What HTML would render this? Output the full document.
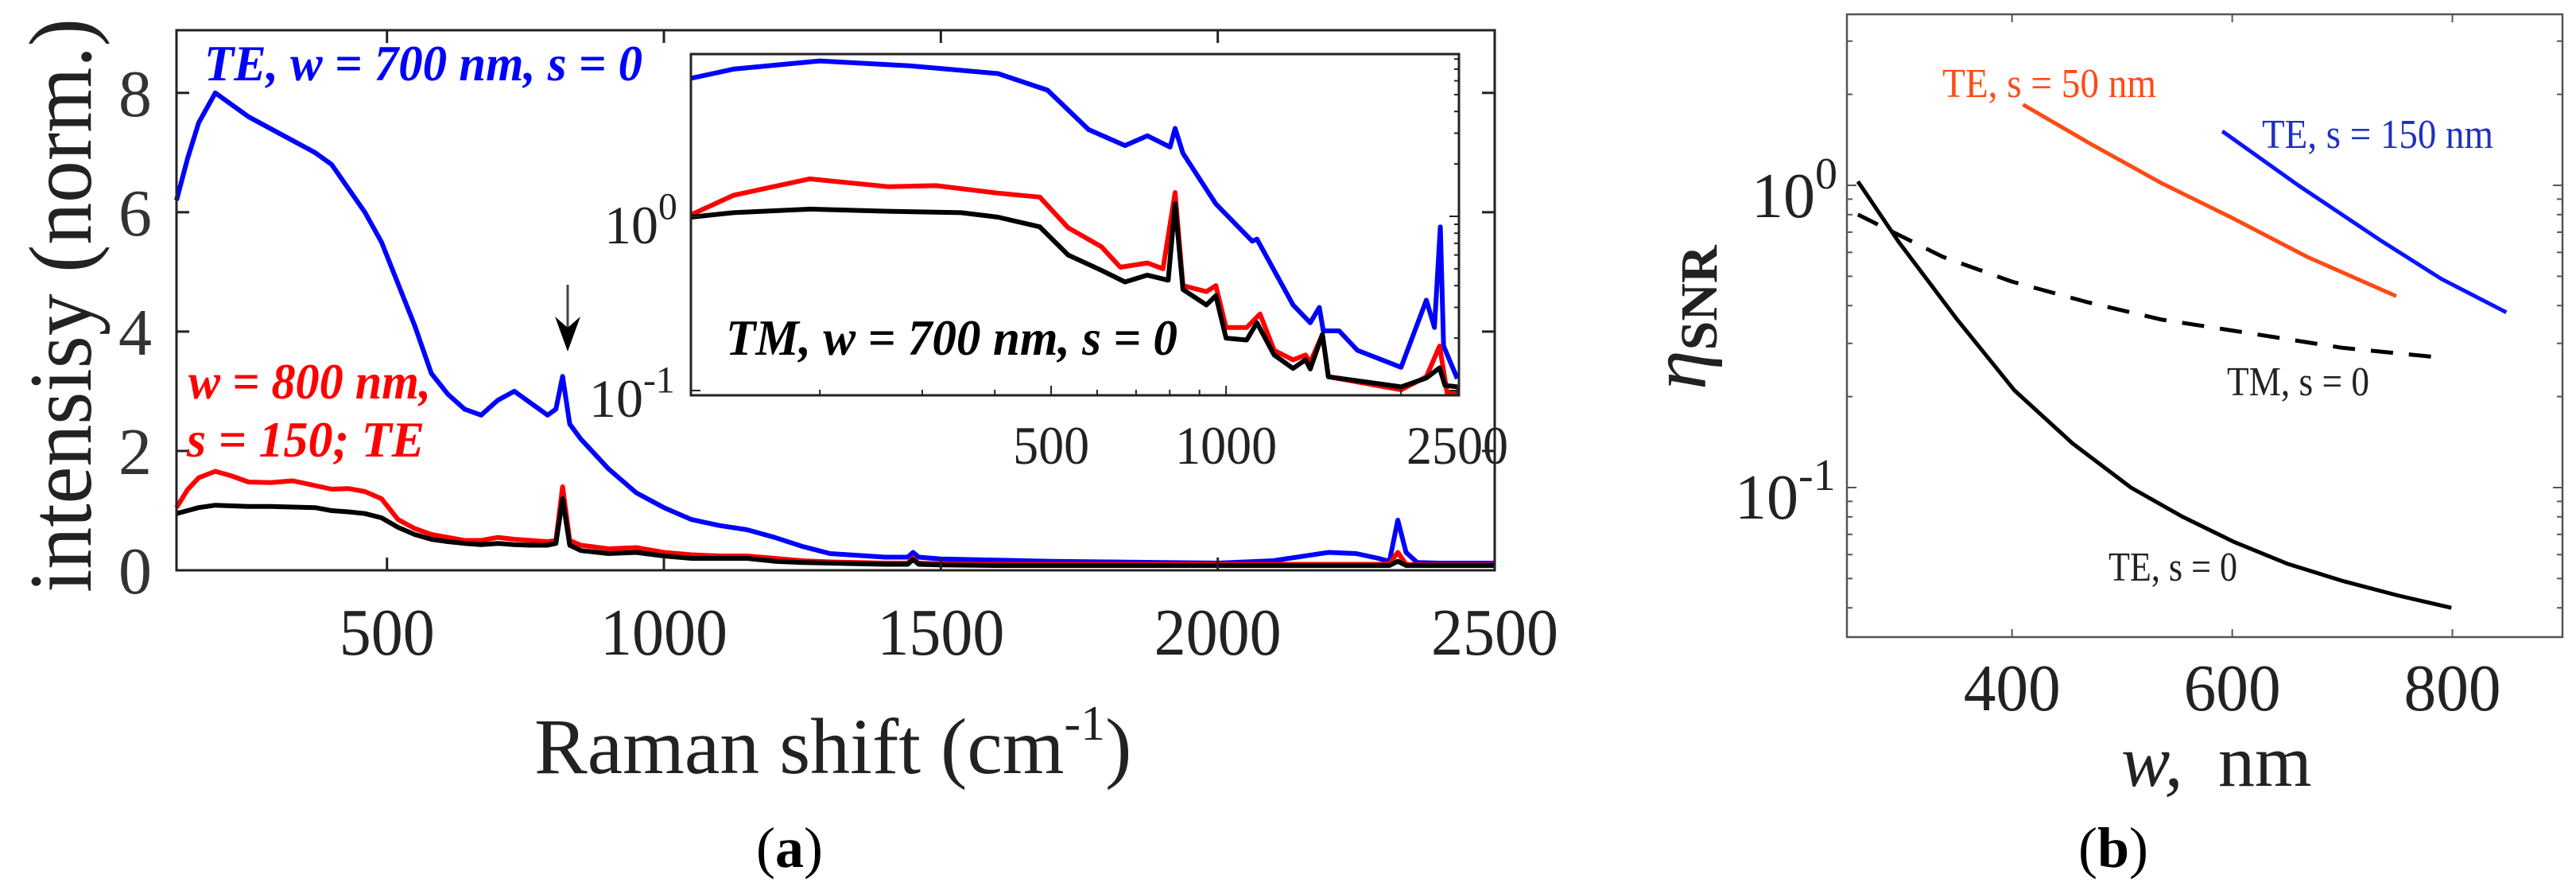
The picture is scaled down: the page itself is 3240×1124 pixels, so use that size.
<!DOCTYPE html>
<html><head><meta charset="utf-8"><style>
html,body{margin:0;padding:0;background:#fff;}
svg{display:block;font-family:"Liberation Serif","Times New Roman",serif;}
svg text{font-family:"Liberation Serif","Times New Roman",serif;}
</style></head><body>
<svg id="fig" width="3240" height="1124" viewBox="0 0 3240 1124" xmlns="http://www.w3.org/2000/svg" font-family="Liberation Serif, serif">
<g id="pa"></g>
<g id="pb"></g>
</svg>
<script>
// ---------- Panel (a) main spectra ----------
const mainX=[120,140,160,190,220,250,290,330,370,400,430,460,490,520,550,580,610,640,670,700,730,760,790,805,817,830,850,900,950,1000,1050,1100,1150,1200,1250,1300,1400,1440,1450,1460,1500,1600,1700,1800,1900,2000,2100,2200,2250,2290,2310,2325,2340,2360,2400,2450,2500];
const mainBlue=[6.2,6.9,7.5,8.0,7.8,7.6,7.4,7.2,7.0,6.8,6.4,6.0,5.5,4.8,4.1,3.3,2.95,2.7,2.6,2.85,3.0,2.8,2.6,2.7,3.25,2.45,2.2,1.7,1.3,1.05,0.85,0.75,0.68,0.55,0.4,0.28,0.22,0.22,0.3,0.22,0.19,0.17,0.15,0.14,0.13,0.12,0.16,0.3,0.28,0.2,0.15,0.84,0.3,0.13,0.12,0.12,0.12];
const mainRed=[1.05,1.35,1.55,1.66,1.58,1.48,1.47,1.5,1.42,1.36,1.37,1.32,1.2,0.85,0.7,0.6,0.55,0.5,0.5,0.55,0.52,0.5,0.48,0.5,1.4,0.5,0.42,0.36,0.38,0.3,0.26,0.24,0.24,0.2,0.16,0.14,0.12,0.12,0.2,0.12,0.11,0.1,0.1,0.1,0.1,0.1,0.1,0.1,0.1,0.1,0.11,0.3,0.1,0.09,0.09,0.09,0.09];
const mainBlack=[0.95,1.0,1.05,1.09,1.08,1.07,1.07,1.06,1.05,1.0,0.98,0.95,0.88,0.72,0.6,0.52,0.48,0.45,0.43,0.45,0.43,0.42,0.42,0.45,1.2,0.42,0.33,0.28,0.3,0.24,0.2,0.2,0.2,0.15,0.13,0.12,0.1,0.1,0.18,0.1,0.09,0.08,0.08,0.08,0.08,0.08,0.08,0.08,0.08,0.08,0.08,0.15,0.08,0.08,0.08,0.08,0.08];
const mainXTicks=[500,1000,1500,2000,2500];
const mainYTicks=[0,2,4,6,8];
// ---------- Panel (a) inset (log-log) ----------
const insBlueX=[120,142,200,287,405,493,580,670,732,801,817,843,960,1109,1130,1304,1396,1447,1470,1565,1683,2000,2211,2283,2337,2367,2500];
const insBlueY=[6.2,7.0,7.8,7.3,6.6,5.3,3.15,2.55,2.9,2.5,3.2,2.3,1.18,0.72,0.74,0.31,0.245,0.30,0.22,0.22,0.17,0.136,0.33,0.23,0.87,0.18,0.117];
const insRedX=[120,142,192,262,317,405,478,535,610,658,732,779,817,843,925,960,1000,1085,1144,1210,1304,1370,1396,1465,1500,2000,2211,2330,2400,2500];
const insRedY=[1.02,1.32,1.64,1.48,1.5,1.36,1.29,0.86,0.67,0.51,0.54,0.5,1.37,0.40,0.37,0.40,0.23,0.23,0.275,0.17,0.15,0.16,0.145,0.21,0.12,0.101,0.12,0.18,0.097,0.097];
const insBlackX=[120,142,192,262,350,405,478,535,610,670,732,795,817,843,925,960,1000,1085,1130,1210,1304,1370,1396,1465,1500,2000,2211,2330,2380,2500];
const insBlackY=[0.99,1.05,1.1,1.07,1.05,0.99,0.87,0.6,0.49,0.42,0.46,0.43,1.18,0.38,0.31,0.35,0.2,0.195,0.245,0.16,0.134,0.15,0.133,0.21,0.12,0.105,0.118,0.135,0.107,0.105];
const insXTicks=[500,1000,2500];
const insXMinor=[200,300,400,600,700,800,900,2000];
// ---------- Panel (b) eta_SNR ----------
const teS0W=[260,297,350,402,455,508,555,602,650,701,750,799];
const teS0Y=[1.03,0.65,0.36,0.21,0.14,0.10,0.08,0.066,0.056,0.049,0.044,0.040];
const tmS0W=[260,337,400,469,535,602,700,786];
const tmS0Y=[0.80,0.58,0.48,0.41,0.36,0.33,0.29,0.27];
const te50W=[410,470,535,600,668,749];
const te50Y=[1.85,1.38,1.02,0.78,0.58,0.43];
const te150W=[591,660,734,790,849];
const te150Y=[1.51,1.0,0.66,0.49,0.38];
const bXTicks=[400,600,800];

const NS="http://www.w3.org/2000/svg";
function mk(parent,tag,attrs,text){const e=document.createElementNS(NS,tag);for(const k in attrs)e.setAttribute(k,attrs[k]);if(text!==undefined)e.textContent=text;parent.appendChild(e);return e;}
const pa=document.getElementById('pa'), pb=document.getElementById('pb');

const MX0=222,MX1=1880,MY0=717,MY1=38,XMIN=120,XMAX=2500,YMIN=0,YMAX=9.05;
const mx=v=>MX0+(v-XMIN)/(XMAX-XMIN)*(MX1-MX0);
const my=v=>MY0-(v-YMIN)/(YMAX-YMIN)*(MY0-MY1);
function line(parent,xs,ys,fx,fy,color,w,name,dash){
  const p=mk(parent,'polyline',{points:xs.map((x,i)=>fx(x).toFixed(1)+','+fy(ys[i]).toFixed(1)).join(' '),fill:'none',stroke:color,'stroke-width':w,'stroke-linejoin':'round','stroke-linecap':'butt'});
  if(dash)p.setAttribute('stroke-dasharray',dash);
  
  
  return p;
}
line(pa,mainX,mainBlue,mx,my,'#0000ff',6,'series-te-700-s0');
line(pa,mainX,mainRed,mx,my,'#ff0000',6,'series-te-800-s150');
line(pa,mainX,mainBlack,mx,my,'#000000',6,'series-tm-700-s0');
const frame=mk(pa,'rect',{x:MX0,y:MY1,width:MX1-MX0,height:MY0-MY1,fill:'none',stroke:'#222','stroke-width':3});


mainXTicks.forEach(t=>{
  const X=mx(t);
  mk(pa,'line',{x1:X,y1:MY0,x2:X,y2:MY0-16,stroke:'#222','stroke-width':3});
  mk(pa,'line',{x1:X,y1:MY1,x2:X,y2:MY1+16,stroke:'#222','stroke-width':3});
  const tl=mk(pa,'text',{x:X,y:823,'font-size':84,'text-anchor':'middle',fill:'#222',textLength:String(t).length*40,lengthAdjust:'spacingAndGlyphs'},String(t));
  
  
});
mainYTicks.forEach(t=>{
  const Y=my(t);
  mk(pa,'line',{x1:MX0,y1:Y,x2:MX0+16,y2:Y,stroke:'#222','stroke-width':3});
  mk(pa,'line',{x1:MX1,y1:Y,x2:MX1-16,y2:Y,stroke:'#222','stroke-width':3});
  const tl=mk(pa,'text',{x:170,y:Y+29,'font-size':84,'text-anchor':'middle',fill:'#333'},String(t));
  
  
});

// inset
const IX0=869,IX1=1835,IY0=497,IY1=68;
const LXMIN=Math.log10(120),LXPD=731,LY0=272,LYPD=219;
const ix=v=>IX0+(Math.log10(v)-LXMIN)*LXPD;
const iy=v=>LY0-Math.log10(v)*LYPD;
const bg=mk(pa,'rect',{x:IX0,y:IY1,width:IX1-IX0,height:IY0-IY1,fill:'#fff',stroke:'none'});


const insg=mk(pa,'g',{});


mk(insg,'clipPath',{id:'insclip'}).appendChild(document.createElementNS(NS,'rect'));
const cr=document.querySelector('#insclip rect');cr.setAttribute('x',IX0);cr.setAttribute('y',IY1);cr.setAttribute('width',IX1-IX0+8);cr.setAttribute('height',IY0-IY1+6);
const insd=mk(insg,'g',{'clip-path':'url(#insclip)'});
line(insd,insBlueX,insBlueY,ix,iy,'#0000ff',6,'inset-series-blue');
line(insd,insRedX,insRedY,ix,iy,'#ff0000',6,'inset-series-red');
line(insd,insBlackX,insBlackY,ix,iy,'#000000',6,'inset-series-black');
const ifr=mk(insg,'rect',{x:IX0,y:IY1,width:IX1-IX0,height:IY0-IY1,fill:'none',stroke:'#222','stroke-width':3});


insXTicks.forEach(t=>{
  const X=ix(t);
  mk(insg,'line',{x1:X,y1:IY0,x2:X,y2:IY0-12,stroke:'#222','stroke-width':2});
  const tl=mk(insg,'text',{x:X,y:583,'font-size':68,'text-anchor':'middle',fill:'#222',textLength:String(t).length*32,lengthAdjust:'spacingAndGlyphs'},String(t));
  
  
});
insXMinor.forEach(t=>{const X=ix(t);mk(insg,'line',{x1:X,y1:IY0,x2:X,y2:IY0-7,stroke:'#222','stroke-width':2});});
[0.1,1].forEach(t=>{const Y=iy(t);mk(insg,'line',{x1:IX1,y1:Y,x2:IX1-12,y2:Y,stroke:'#222','stroke-width':2});mk(insg,'line',{x1:IX0,y1:Y,x2:IX0+12,y2:Y,stroke:'#222','stroke-width':2});});
[0.2,0.3,0.4,0.5,0.6,0.7,0.8,0.9,2,3,4,5,6,7,8].forEach(t=>{const Y=iy(t);if(Y>IY1){mk(insg,'line',{x1:IX1,y1:Y,x2:IX1-6,y2:Y,stroke:'#222','stroke-width':2});}});
function pow10(parent,x,y,exp,fs,name){
  const t=mk(parent,'text',{x:x,y:y,'font-size':fs,fill:'#222'});
  mk(t,'tspan',{},'10');
  mk(t,'tspan',{dy:-fs*0.45,'font-size':fs*0.7},exp);
  
  
}
pow10(pa,760,306,'0',68,'inset-y-tick-10e0');
pow10(pa,741,524,'-1',68,'inset-y-tick-10e-1');

function txt(parent,attrs,s,name){const t=mk(parent,'text',attrs,s);return t;}
txt(pa,{x:257,y:101,'font-size':64,'font-weight':'bold','font-style':'italic',fill:'#0000ff',textLength:551,lengthAdjust:'spacingAndGlyphs'},'TE, w = 700 nm, s = 0','label-te-700');
txt(pa,{x:237,y:501,'font-size':64,'font-weight':'bold','font-style':'italic',fill:'#ff0000',textLength:305,lengthAdjust:'spacingAndGlyphs'},'w = 800 nm,','label-w800-line1');
txt(pa,{x:235,y:574,'font-size':64,'font-weight':'bold','font-style':'italic',fill:'#ff0000',textLength:299,lengthAdjust:'spacingAndGlyphs'},'s = 150; TE','label-w800-line2');
txt(pa,{x:913,y:446,'font-size':64,'font-weight':'bold','font-style':'italic',fill:'#000',textLength:568,lengthAdjust:'spacingAndGlyphs'},'TM, w = 700 nm, s = 0','label-tm-700');
const arr=mk(pa,'g',{});


mk(arr,'line',{x1:714,y1:358,x2:714,y2:420,stroke:'#444','stroke-width':3});
mk(arr,'polygon',{points:'698,398 714,412 730,398 714,442',fill:'#000'});
txt(pa,{x:0,y:0,'font-size':112,fill:'#222',transform:'translate(114,745) rotate(-90)',textLength:722,lengthAdjust:'spacingAndGlyphs'},'intensisy (norm.)','y-axis-title');
const xl=txt(pa,{x:672,y:972,'font-size':100,fill:'#222'},'','x-axis-title');
mk(xl,'tspan',{},'Raman shift (cm');
mk(xl,'tspan',{dy:-42,'font-size':62},'-1');
mk(xl,'tspan',{dy:42},')');
const ca=txt(pa,{x:993,y:1090,'font-size':72,'text-anchor':'middle',fill:'#000'},'','caption-a');
mk(ca,'tspan',{},'(');mk(ca,'tspan',{'font-weight':'bold'},'a');mk(ca,'tspan',{},')');

// ---------- panel b ----------
const BX0=2323,BX1=3223,BY0=801,BY1=18,BWMIN=250,BWMAX=900,BYD=380,BY10=233;
const bx=v=>BX0+(v-BWMIN)/(BWMAX-BWMIN)*(BX1-BX0);
const by=v=>BY10-Math.log10(v)*BYD;
line(pb,teS0W,teS0Y,bx,by,'#000',5,'curve-te-s0');
line(pb,tmS0W,tmS0Y,bx,by,'#000',5,'curve-tm-s0','28,20');
line(pb,te50W,te50Y,bx,by,'#ff4a14',5,'curve-te-s50');
line(pb,te150W,te150Y,bx,by,'#0a14ff',5,'curve-te-s150');
const bf=mk(pb,'rect',{x:BX0,y:BY1,width:BX1-BX0,height:BY0-BY1,fill:'none',stroke:'#555','stroke-width':2.5});


bXTicks.forEach(t=>{
  const X=bx(t);
  mk(pb,'line',{x1:X,y1:BY0,x2:X,y2:BY0-10,stroke:'#555','stroke-width':2});
  mk(pb,'line',{x1:X,y1:BY1,x2:X,y2:BY1+10,stroke:'#555','stroke-width':2});
  const tl=mk(pb,'text',{x:X,y:893,'font-size':84,'text-anchor':'middle',fill:'#222',textLength:122,lengthAdjust:'spacingAndGlyphs'},String(t));
  
  
});
[0.04,0.05,0.06,0.07,0.08,0.09,0.1,0.2,0.3,0.4,0.5,0.6,0.7,0.8,0.9,1,2,3].forEach(t=>{
  const Y=by(t);if(Y<BY1||Y>BY0)return;
  const L=(t===0.1||t===1)?12:7;
  mk(pb,'line',{x1:BX0,y1:Y,x2:BX0+L,y2:Y,stroke:'#555','stroke-width':2});
  mk(pb,'line',{x1:BX1,y1:Y,x2:BX1-L,y2:Y,stroke:'#555','stroke-width':2});
});
pow10(pb,2203,273,'0',80,'b-y-tick-10e0');
pow10(pb,2182,652,'-1',80,'b-y-tick-10e-1');
txt(pb,{x:2443,y:122,'font-size':52,fill:'#ff4a14',textLength:269,lengthAdjust:'spacingAndGlyphs'},'TE, s  = 50 nm','label-te-s50');
txt(pb,{x:2845,y:186,'font-size':52,fill:'#2030c0',textLength:291,lengthAdjust:'spacingAndGlyphs'},'TE, s  = 150 nm','label-te-s150');
txt(pb,{x:2801,y:497,'font-size':52,fill:'#222',textLength:179,lengthAdjust:'spacingAndGlyphs'},'TM, s = 0','label-tm-s0');
txt(pb,{x:2652,y:730,'font-size':52,fill:'#222',textLength:162,lengthAdjust:'spacingAndGlyphs'},'TE, s = 0','label-te-s0');
const eta=txt(pb,{x:0,y:0,'font-size':100,fill:'#222',transform:'translate(2145,490) rotate(-90)'},'','y-axis-title-b');
mk(eta,'tspan',{'font-style':'italic'},'η');
mk(eta,'tspan',{dy:14,'font-size':66,'font-weight':'bold'},'SNR');
const wl=txt(pb,{x:2668,y:988,'font-size':92,fill:'#222'},'','x-axis-title-b');
mk(wl,'tspan',{'font-style':'italic'},'w,');
mk(wl,'tspan',{x:2790},'nm');
const cb=txt(pb,{x:2658,y:1090,'font-size':72,'text-anchor':'middle',fill:'#000'},'','caption-b');
mk(cb,'tspan',{},'(');mk(cb,'tspan',{'font-weight':'bold'},'b');mk(cb,'tspan',{},')');
</script>
</body></html>
